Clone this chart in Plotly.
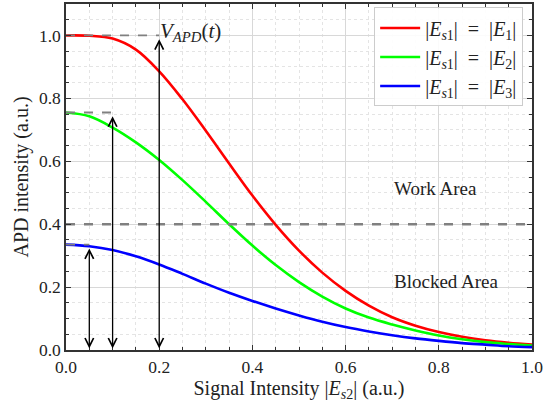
import plotly.graph_objects as go

# ---- data ----
x_vals = [0.0, 0.05, 0.1, 0.15, 0.2, 0.25, 0.3, 0.35, 0.4, 0.45, 0.5,
          0.55, 0.6, 0.65, 0.7, 0.75, 0.8, 0.85, 0.9, 0.95, 1.0]
red_vals = [1.0, 0.999, 0.990, 0.955, 0.886, 0.797, 0.697, 0.593, 0.491, 0.398, 0.316,
            0.246, 0.188, 0.141, 0.104, 0.077, 0.057, 0.042, 0.031, 0.023, 0.017]
green_vals = [0.755, 0.743, 0.707, 0.660, 0.604, 0.540, 0.471, 0.400, 0.332, 0.270, 0.216,
              0.170, 0.132, 0.103, 0.081, 0.062, 0.046, 0.034, 0.025, 0.019, 0.014]
blue_vals = [0.335, 0.330, 0.318, 0.298, 0.272, 0.242, 0.211, 0.182, 0.156, 0.132, 0.110,
             0.090, 0.073, 0.059, 0.047, 0.037, 0.029, 0.022, 0.017, 0.012, 0.009]
series_names = ["|<i>E</i><sub><i>s</i>1</sub>|&nbsp; = &nbsp;|<i>E</i><sub>1</sub>|",
                "|<i>E</i><sub><i>s</i>1</sub>|&nbsp; = &nbsp;|<i>E</i><sub>2</sub>|",
                "|<i>E</i><sub><i>s</i>1</sub>|&nbsp; = &nbsp;|<i>E</i><sub>3</sub>|"]
series_colors = ["#ff0000", "#00ff00", "#0000ff"]

threshold = 0.4
arrow_x = [0.05, 0.1, 0.2]
arrow_top = [0.335, 0.755, 1.0]
tick_vals = [0.0, 0.2, 0.4, 0.6, 0.8, 1.0]

FONT = "Liberation Serif"
TXT = "#222"

fig = go.Figure()
for vals, name, col in zip([red_vals, green_vals, blue_vals], series_names, series_colors):
    fig.add_trace(go.Scatter(x=x_vals, y=vals, mode="lines", name=name,
                             line=dict(color=col, width=2.6, shape="spline", smoothing=1.0)))

# short dashed level markers
for ax_, top in zip(arrow_x, arrow_top):
    fig.add_trace(go.Scatter(x=[0.0, ax_], y=[top, top], mode="lines", showlegend=False,
                             line=dict(color="#808080", width=1.8, dash="dash"),
                             hoverinfo="skip"))
# threshold line
fig.add_trace(go.Scatter(x=[0.0, 1.0], y=[threshold, threshold], mode="lines", showlegend=False,
                         line=dict(color="#808080", width=2.4, dash="dash"), hoverinfo="skip"))

# double-headed arrows
for ax_, top in zip(arrow_x, arrow_top):
    fig.add_annotation(x=ax_, y=top - 0.012, ax=ax_, ay=0.0, xref="x", yref="y",
                       axref="x", ayref="y", text="", showarrow=True,
                       arrowhead=5, startarrowhead=5, arrowside="end+start",
                       arrowsize=1.3, startarrowsize=1.3, arrowwidth=1.3, arrowcolor="black",
                       standoff=0, startstandoff=0)

fig.add_annotation(x=0.198, y=1.01, xref="x", yref="y", showarrow=False, xanchor="left",
                   yanchor="middle",
                   text="<i>V</i><sub><i>APD</i></sub>(<i>t</i>)",
                   font=dict(family=FONT, size=21, color=TXT))
fig.add_annotation(x=0.70, y=0.514, xref="x", yref="y", showarrow=False, xanchor="left",
                   yanchor="middle", text="Work Area",
                   font=dict(family=FONT, size=19, color=TXT))
fig.add_annotation(x=0.70, y=0.218, xref="x", yref="y", showarrow=False, xanchor="left",
                   yanchor="middle", text="Blocked Area",
                   font=dict(family=FONT, size=19, color=TXT))

axis_common = dict(
    showline=True, linecolor="#333", linewidth=1.5, mirror="ticks",
    ticks="inside", ticklen=5, tickwidth=1, tickcolor="#333",
    showgrid=True, gridcolor="#d8d8d8", gridwidth=1,
    zeroline=False, tickformat=".1f", tickvals=tick_vals,
    tickfont=dict(family=FONT, size=17.5, color=TXT),
    minor=dict(dtick=0.05, ticks="inside", ticklen=3, tickcolor="#333",
               showgrid=True, gridcolor="#e4e4e4", griddash="dot", gridwidth=1),
)

fig.update_xaxes(range=[0, 1.0], title=dict(text="Signal Intensity |<i>E</i><sub><i>s</i>2</sub>| (a.u.)",
                                             font=dict(family=FONT, size=20, color=TXT), standoff=1),
                 **axis_common)
fig.update_yaxes(range=[0, 1.1], title=dict(text="APD intensity (a.u.)",
                                             font=dict(family=FONT, size=20, color=TXT), standoff=5),
                 **axis_common)

fig.update_layout(
    width=559, height=403,
    margin=dict(l=66, r=27, t=2, b=53),
    plot_bgcolor="white", paper_bgcolor="white",
    font=dict(family=FONT, size=18, color=TXT),
    legend=dict(x=0.981, y=0.99, xanchor="right", yanchor="top",
                bgcolor="rgba(255,255,255,0.9)", bordercolor="#cccccc", borderwidth=1,
                font=dict(family=FONT, size=20, color=TXT), tracegroupgap=0,
                itemwidth=40),
    showlegend=True,
)

fig.write_html("out.html")
